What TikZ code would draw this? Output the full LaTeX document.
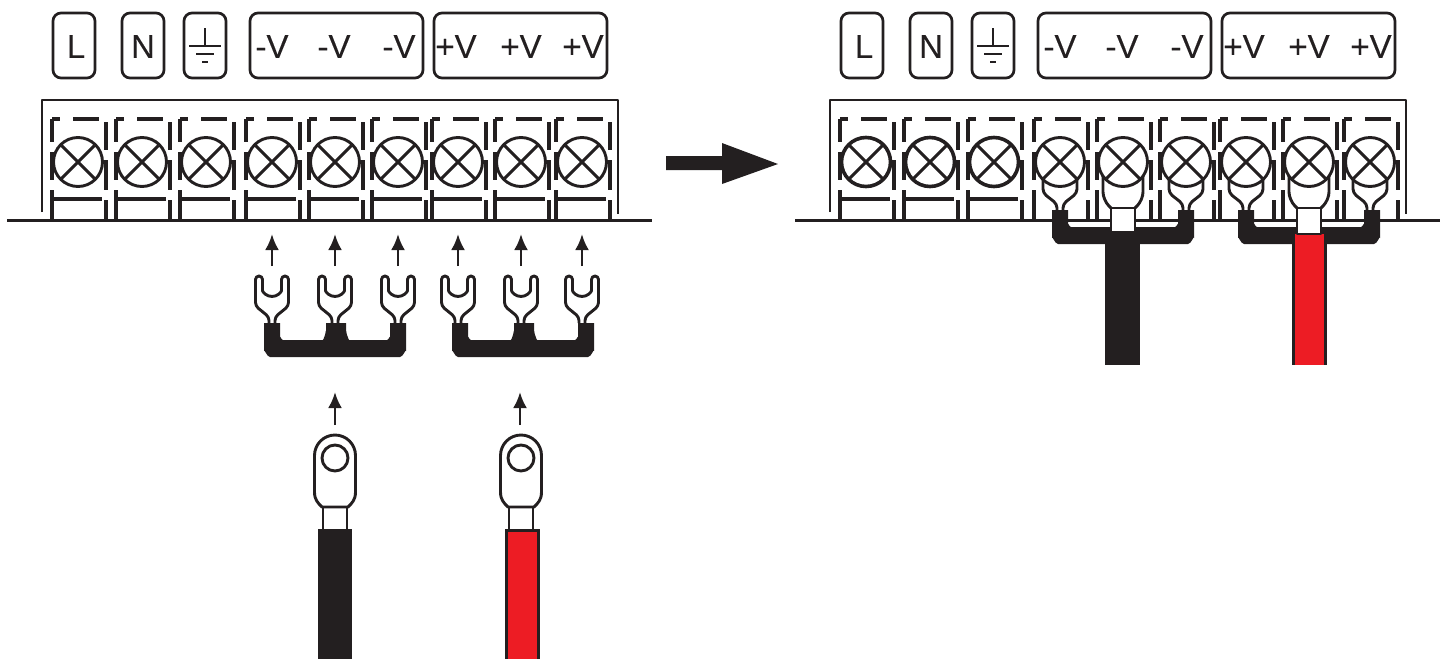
\documentclass[tikz,border=0pt]{standalone}
\usepackage{fontspec}
\setmainfont[FakeBold=0.12]{Liberation Sans}
\definecolor{ink}{HTML}{231F20}
\definecolor{wirered}{HTML}{ED1C24}
\usetikzlibrary{arrows.meta}
\tikzset{
  x=1pt,y=-1pt,
  every path/.style={line join=round},
  ln/.style={draw=ink,line width=2.9pt},
  cell ln/.style={draw=ink,line width=3.2pt},
  thin ln/.style={draw=ink,line width=2.4pt},
  lab/.style={draw=ink,line width=2.7pt,rounded corners=8pt},
  txt/.style={font=\fontsize{33}{33}\selectfont,text=ink,inner sep=0pt,anchor=center},
  tip/.style={draw=ink,line width=2.8pt,-{Latex[length=16pt,width=14pt]}},
  pics/celldash/.style={code={
    \draw[cell ln] (-26,-43)--(-26,-20) (-26,-10)--(-26,18) (-26,28)--(-26,58);
    \draw[cell ln] (28,-40)--(28,-12) (28,-2)--(28,28) (28,38)--(28,58);
    \draw[cell ln] (-26,-43)--(-18,-43) (-5,-43)--(21,-43);
  }},
  pics/cellbar/.style={code={\draw[cell ln] (-26,37)--(24,37);}},
  pics/screw/.style={code={
    \draw[ln,fill=white,line width=#1] (0,0) circle[radius=24.5];
    \draw[ln] (-16.5,-16.5)--(16.5,16.5) (-16.5,16.5)--(16.5,-16.5);
  }},
  pics/screw/.default=2.9pt,
  pics/fork/.style={code={
    \draw[ln,fill=white,rounded corners=3.5pt] (-3,0)--(-3,-6)--(-16.5,-17)--(-16.5,-47)--(-9.5,-47)--(-9.5,-36)
      arc[start angle=180,end angle=0,radius=9.5]--(9.5,-47)--(16.5,-47)--(16.5,-17)--(3,-6)--(3,0);
  }},
  pics/forkon/.style={code={
    \path[fill=white] (-3,0)--(-3,-6)--(-17,-17)--(-17,-32)--(17,-32)--(17,-17)--(3,-6)--(3,0)--cycle;
    \draw[ln,rounded corners=4pt] (-3,0)--(-3,-6)--(-17,-17)--(-17,-32);
    \draw[ln,rounded corners=4pt] (3,0)--(3,-6)--(17,-17)--(17,-32);
  }},
  pics/ringon/.style={code={
    \path[fill=white] (-13,0)--(-20,-12)--(-20,-36)--(20,-36)--(20,-12)--(13,0)--cycle;
    \draw[ln,rounded corners=8pt] (-12,0)--(-20,-8)--(-20,-36);
    \draw[ln,rounded corners=8pt] (12,0)--(20,-8)--(20,-36);
  }},
  pics/barrel/.style={code={
    \draw[ln,fill=white] (-12,0) rectangle (12,#1);
  }},
  pics/busbar/.style={code={
    \fill[ink] (0,0)--(0,28) to[out=90,in=180] (6,34)--(136,34) to[out=0,in=90] (142,28)--(142,0)--(126,0)--(126,14) to[out=90,in=0] (123,17)--(19,17) to[out=180,in=90] (16,14)--(16,0)--cycle;
  }},
  pics/midtab/.style={code={
    \fill[ink] (62,0)--(82,0)--(82,8) to[out=90,in=180] (87,18)--(57,18) to[out=0,in=90] (62,8)--cycle;
  }},
  pics/ringfull/.style={code={
    \draw[ln,fill=white] (-12,71)--(-12,95)--(12,95)--(12,71);
    \draw[ln,fill=white] (-13,72) .. controls (-17,68) and (-20.5,65) .. (-20.5,57)--(-20.5,20.5) arc[start angle=180,end angle=360,radius=20.5]--(20.5,57) .. controls (20.5,65) and (17,68) .. (13,72)--cycle;
    \draw[ln] (0,23) circle[radius=13];
  }},
}
\begin{document}
\begin{tikzpicture}
\useasboundingbox (0,0) rectangle (1445,659);
\foreach \ox/\side in {0/L,788/R}{
  \begin{scope}[xshift=\ox pt]
    \draw[lab] (53,13) rectangle (95,78);
    \draw[lab] (122,13) rectangle (164,78);
    \draw[lab] (184,13) rectangle (226,78);
    \draw[lab] (250,13) rectangle (423,78);
    \draw[lab] (434,13) rectangle (607,78);
    \node[txt] (l\side) at (76,46.5) {L};
    \node[txt] (n\side) at (143,46.5) {N};
    \draw[thin ln] (205,28)--(205,46) (189,46)--(221,46) (196,54)--(214,54) (202,62)--(208,62);
    \node[txt] (ma\side) at (272,46.5) {-V};
    \node[txt] (mb\side) at (334,46.5) {-V};
    \node[txt] (mc\side) at (399,46.5) {-V};
    \node[txt] (pa\side) at (456,46.5) {+V};
    \node[txt] (pb\side) at (521,46.5) {+V};
    \node[txt] (pc\side) at (583,46.5) {+V};
    \draw[lab,rounded corners=0pt] (42,212)--(42,100)--(618,100)--(618,214);
    \draw[thin ln] (7,220.5)--(652,220.5);
  \end{scope}
}
\foreach \c in {78,142,206,272,335,398,458,521,582}{
  \pic at (\c,162) {celldash};
  \pic at (\c,162) {cellbar};
  \pic at (\c,162) {screw};
}
\foreach \c in {866,930,994}{
  \pic at (\c,162) {celldash};
  \pic at (\c,162) {cellbar};
  \pic at (\c,162) {screw=3.6pt};
}
\foreach \c in {1060,1123,1186,1246,1309,1370}{
  \pic at (\c,162) {celldash};
}
\foreach \c in {272,335,398,458,521,582}{
  \coordinate (tail\c) at (\c,266);
  \coordinate (head\c) at (\c,234);
  \draw[tip] (tail\c)--(head\c);
  \pic at (\c,323) {fork};
}
\pic at (264,323) {busbar};
\pic at (264,323) {midtab};
\pic at (452,323) {busbar};
\pic at (452,323) {midtab};
\coordinate (ta) at (335,425); \coordinate (ha) at (335,392);
\coordinate (tb) at (520,425); \coordinate (hb) at (520,392);
\draw[tip] (ta)--(ha);
\draw[tip] (tb)--(hb);
\pic at (335,435) {ringfull};
\pic at (521,435) {ringfull};
\fill[ink] (318,529) rectangle (352,659);
\fill[ink] (504.5,529) rectangle (539.5,659);
\fill[wirered] (507.5,532) rectangle (536.5,659);
\fill[ink] (666,156)--(722,156)--(722,143)--(778,164)--(722,184)--(722,170)--(666,170)--cycle;
\foreach \c in {1060,1186,1246,1370}{
  \pic at (\c,210) {forkon};
}
\pic at (1123,208) {ringon};
\pic at (1309,208) {ringon};
\foreach \c in {1060,1123,1186,1246,1309,1370}{
  \pic at (\c,162) {screw};
}
\path[fill=white] (1068,222) rectangle (1178,227);
\path[fill=white] (1254,222) rectangle (1365,227);
\pic at (1052,210) {busbar};
\pic at (1238,210) {busbar};
\fill[ink] (1105,232) rectangle (1140,365);
\fill[ink] (1292,234) rectangle (1327,365);
\fill[wirered] (1295,234) rectangle (1324,365);
\pic at (1123,208) {barrel=24};
\pic at (1309,208) {barrel=26};
\end{tikzpicture}
\end{document}
